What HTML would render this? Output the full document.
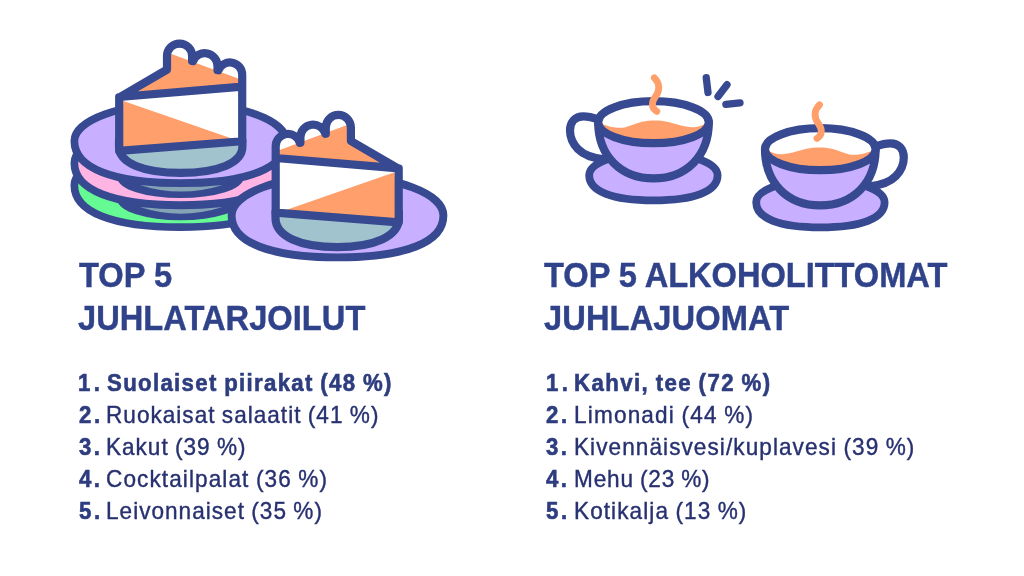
<!DOCTYPE html>
<html lang="fi">
<head>
<meta charset="utf-8">
<title>Top 5 juhlatarjoilut ja alkoholittomat juhlajuomat</title>
<style>
html,body{margin:0;padding:0;background:#fff}
body{width:1024px;height:576px;position:relative;overflow:hidden;font-family:"Liberation Sans",sans-serif}
h2,ol,li,section{margin:0;padding:0;list-style:none;font-size:inherit;font-weight:inherit}
.t{position:absolute;display:block;white-space:nowrap;line-height:1;transform-origin:0 0;margin:0}
.h{font-weight:700;font-size:34.2px;transform:scaleX(0.955);color:#30438a;-webkit-text-stroke:0.4px #30438a;word-spacing:0px}
.b{font-weight:700;font-size:23.6px;transform:scaleX(0.94);color:#2d3d7f;-webkit-text-stroke:0.6px #2d3d7f;word-spacing:-1.0px}
.n{font-weight:700;font-size:23.6px;transform:scaleX(0.94);color:#2d3d7f;-webkit-text-stroke:0.6px #2d3d7f;word-spacing:0px}
.r{font-weight:400;font-size:24.0px;transform:scaleX(0.94);color:#273170;-webkit-text-stroke:0.4px #273170;word-spacing:-1.0px}
</style>
</head>
<body>
<svg width="1024" height="576" viewBox="0 0 1024 576" style="position:absolute;left:0;top:0">
<path d="M74.35 185.20 C74.35 164.21 121.76 147.20 180.25 147.20 C238.74 147.20 286.15 164.21 286.15 185.20 C286.15 212.08 248.03 227.20 180.25 227.20 C112.47 227.20 74.35 212.08 74.35 185.20 Z" fill="#66fa94" stroke="#374990" stroke-width="7.7" stroke-linejoin="round"/>
<ellipse cx="180.5" cy="200.1" rx="63" ry="20.1" fill="#374990"/>
<path d="M74.35 163.10 C74.35 142.11 121.76 125.10 180.25 125.10 C238.74 125.10 286.15 142.11 286.15 163.10 C286.15 189.98 248.03 205.10 180.25 205.10 C112.47 205.10 74.35 189.98 74.35 163.10 Z" fill="#ffb4e4" stroke="#374990" stroke-width="7.7" stroke-linejoin="round"/>
<path d="M139.8 207.0 Q180.5 211.4 222.7 207.0 Q180.5 220.3 139.8 207.0 Z" fill="#84a4b6"/>
<ellipse cx="180.5" cy="178" rx="63" ry="20.1" fill="#374990"/>
<path d="M74.35 141.00 C74.35 120.01 121.76 103.00 180.25 103.00 C238.74 103.00 286.15 120.01 286.15 141.00 C286.15 167.88 248.03 183.00 180.25 183.00 C112.47 183.00 74.35 167.88 74.35 141.00 Z" fill="#c9afff" stroke="#374990" stroke-width="7.7" stroke-linejoin="round"/>
<path d="M139.8 184.9 Q180.5 189.3 222.7 184.9 Q180.5 198.2 139.8 184.9 Z" fill="#84a4b6"/>
<g transform="translate(517.9,-71.4) scale(-1,1)">
<path d="M275.5 212.0 L275.5 218.0 C275.5 234.68 300.18 244.3 337.2 244.3 C374.22 244.3 398.9 234.68 398.9 218.0 L398.9 212.0 Z" fill="#a1c3cd" stroke="#374990" stroke-width="8.2" stroke-linejoin="round"/>
<path d="M275.7 158 L398.7 168.4 L398.7 222.3 L275.7 212.65 Z" fill="#fff"/>
<path d="M287.5 209.5 L394.5 172.3 L398 222.3 L280 213 Z" fill="#ffa06c"/>
<path d="M275.7 158 L275.7 146.2 A12.3 12.3 0 0 1 300.3 146.2 L300.4 137.3 A12.7 12.7 0 0 1 325.8 137.3 L325.8 127.5 A12.55 12.55 0 0 1 350.9 127.5 L350.9 141 L398.7 168.4 Z" fill="#fff"/>
<path d="M277 151 L346.5 125.3 L352 141 L398.7 168.4 L275.7 158 Z" fill="#ffa06c"/>
<path d="M275.7 212.65 L275.7 146.2 A12.3 12.3 0 0 1 299.41 141.60 M300.4 141.60 L300.4 137.3 A12.7 12.7 0 0 1 324.86 132.50 M325.8 132.50 L325.8 127.5 A12.55 12.55 0 0 1 350.9 127.5 L350.9 141 L398.7 168.9 L398.7 222.3 M275.7 158 L398.7 168.4 M275.7 212.65 L398.7 222.3" fill="none" stroke="#374990" stroke-width="8.2" stroke-linecap="round" stroke-linejoin="round"/>
</g>
<path d="M231.60 215.40 C231.60 193.53 279.01 175.80 337.50 175.80 C395.99 175.80 443.40 193.53 443.40 215.40 C443.40 242.28 405.28 257.40 337.50 257.40 C269.72 257.40 231.60 242.28 231.60 215.40 Z" fill="#c9afff" stroke="#374990" stroke-width="7.9" stroke-linejoin="round"/>
<g>
<path d="M275.5 212.0 L275.5 218.0 C275.5 236.49 300.18 247.05 337.2 247.05 C374.22 247.05 398.9 236.49 398.9 218.0 L398.9 212.0 Z" fill="#a1c3cd" stroke="#374990" stroke-width="8.2" stroke-linejoin="round"/>
<path d="M275.7 158 L398.7 168.4 L398.7 222.3 L275.7 212.65 Z" fill="#fff"/>
<path d="M287.5 209.5 L394.5 172.3 L398 222.3 L280 213 Z" fill="#ffa06c"/>
<path d="M275.7 158 L275.7 146.2 A12.3 12.3 0 0 1 300.3 146.2 L300.4 137.3 A12.7 12.7 0 0 1 325.8 137.3 L325.8 127.5 A12.55 12.55 0 0 1 350.9 127.5 L350.9 141 L398.7 168.4 Z" fill="#fff"/>
<path d="M277 151 L346.5 125.3 L352 141 L398.7 168.4 L275.7 158 Z" fill="#ffa06c"/>
<path d="M275.7 212.65 L275.7 146.2 A12.3 12.3 0 0 1 299.82 142.80 M300.4 142.80 L300.4 137.3 A12.7 12.7 0 0 1 325.28 133.70 M325.8 133.70 L325.8 127.5 A12.55 12.55 0 0 1 350.9 127.5 L350.9 141 L398.7 168.9 L398.7 222.3 M275.7 158 L398.7 168.4 M275.7 212.65 L398.7 222.3" fill="none" stroke="#374990" stroke-width="8.2" stroke-linecap="round" stroke-linejoin="round"/>
</g>
<g>
<path d="M589.20 175.20 C589.20 162.61 617.94 152.40 653.40 152.40 C688.86 152.40 717.60 162.61 717.60 175.20 C717.60 191.26 694.49 200.30 653.40 200.30 C612.31 200.30 589.20 191.26 589.20 175.20 Z" fill="#c9afff" stroke="#374990" stroke-width="7.8" stroke-linejoin="round"/>
<path d="M599 119.6 C593 117.6 588 116.4 583.4 116.4 C575 116.4 570 122 570 130.5 C570 139 573.5 144.5 578 149.2 C583 154.3 591 158 604 159.3" fill="#fff" stroke="#374990" stroke-width="8.2" stroke-linecap="round" stroke-linejoin="round"/>
<path d="M598.2 122 C598.2 155.8 620.6 178.4 653.6 178.4 C686.6 178.4 708.8 155.8 708.8 122 Z" fill="#c9afff" stroke="#374990" stroke-width="8.2" stroke-linejoin="round"/>
<ellipse cx="653.5" cy="122.2" rx="55.3" ry="21" fill="#fff"/>
<path d="M601 124 C606 125 609 126.6 613.6 127.3 C618 128 621 128 624.5 127.4 C631 126 636 123 642 121.8 C650 120.2 660 120.2 667 121.8 C676 123.8 684 127 692.8 127.3 C698 127.4 702 125.5 706.5 123 C705 136 684 143.2 653.8 143.2 C624 143.2 603 136 601 124 Z" fill="#ffa06c"/>
<ellipse cx="653.5" cy="122.2" rx="55.3" ry="21" fill="none" stroke="#374990" stroke-width="8.2"/>
<path d="M654.4 77.8 C660.5 84 659.5 91 655.5 96.5 C651.5 102 651 107.5 656.8 111.3" fill="none" stroke="#ffa06c" stroke-width="6.9" stroke-linecap="round"/>
</g>
<g transform="translate(1473.8,27) scale(-1,1)">
<path d="M589.20 175.20 C589.20 162.61 617.94 152.40 653.40 152.40 C688.86 152.40 717.60 162.61 717.60 175.20 C717.60 191.26 694.49 200.30 653.40 200.30 C612.31 200.30 589.20 191.26 589.20 175.20 Z" fill="#c9afff" stroke="#374990" stroke-width="7.8" stroke-linejoin="round"/>
<path d="M599 119.6 C593 117.6 588 116.4 583.4 116.4 C575 116.4 570 122 570 130.5 C570 139 573.5 144.5 578 149.2 C583 154.3 591 158 604 159.3" fill="#fff" stroke="#374990" stroke-width="8.2" stroke-linecap="round" stroke-linejoin="round"/>
<path d="M598.2 122 C598.2 155.8 620.6 178.4 653.6 178.4 C686.6 178.4 708.8 155.8 708.8 122 Z" fill="#c9afff" stroke="#374990" stroke-width="8.2" stroke-linejoin="round"/>
<ellipse cx="653.5" cy="122.2" rx="55.3" ry="21" fill="#fff"/>
<path d="M601 124 C606 125 609 126.6 613.6 127.3 C618 128 621 128 624.5 127.4 C631 126 636 123 642 121.8 C650 120.2 660 120.2 667 121.8 C676 123.8 684 127 692.8 127.3 C698 127.4 702 125.5 706.5 123 C705 136 684 143.2 653.8 143.2 C624 143.2 603 136 601 124 Z" fill="#ffa06c"/>
<ellipse cx="653.5" cy="122.2" rx="55.3" ry="21" fill="none" stroke="#374990" stroke-width="8.2"/>
<path d="M654.4 77.8 C660.5 84 659.5 91 655.5 96.5 C651.5 102 651 107.5 656.8 111.3" fill="none" stroke="#ffa06c" stroke-width="6.9" stroke-linecap="round"/>
</g>
<path d="M706.25 77.7 L708 92.5 M727 84.7 L718 96.5 M740 102.9 L725.9 104.4" fill="none" stroke="#374990" stroke-width="7.3" stroke-linecap="round"/>
</svg>
<section aria-label="Top 5 juhlatarjoilut">
<h2>
<span class="t h" style="left:78.76px;top:257.75px;letter-spacing:-0.023px">TOP 5</span>
<span class="t h" style="left:78.44px;top:300.75px;letter-spacing:0.015px">JUHLATARJOILUT</span>
</h2>
<ol>
<li><span class="t n" style="left:78.15px;top:371.82px;letter-spacing:3.625px">1.</span><span class="t b" style="left:106.72px;top:371.82px;letter-spacing:1.421px">Suolaiset piirakat (48&nbsp;%)</span></li>
<li><span class="t n" style="left:78.82px;top:403.82px;letter-spacing:2.917px">2.</span><span class="t r" style="left:106.08px;top:402.68px;letter-spacing:1.084px">Ruokaisat salaatit (41&nbsp;%)</span></li>
<li><span class="t n" style="left:79.04px;top:435.82px;letter-spacing:2.681px">3.</span><span class="t r" style="left:106.08px;top:434.68px;letter-spacing:1.063px">Kakut (39&nbsp;%)</span></li>
<li><span class="t n" style="left:79.04px;top:467.82px;letter-spacing:2.681px">4.</span><span class="t r" style="left:105.96px;top:466.68px;letter-spacing:1.172px">Cocktailpalat (36&nbsp;%)</span></li>
<li><span class="t n" style="left:78.82px;top:499.82px;letter-spacing:2.917px">5.</span><span class="t r" style="left:106.08px;top:498.68px;letter-spacing:1.086px">Leivonnaiset (35&nbsp;%)</span></li>
</ol>
</section>
<section aria-label="Top 5 alkoholittomat juhlajuomat">
<h2>
<span class="t h" style="left:544.46px;top:257.75px;letter-spacing:-0.061px">TOP 5 ALKOHOLITTOMAT</span>
<span class="t h" style="left:544.14px;top:300.75px;letter-spacing:0.104px">JUHLAJUOMAT</span>
</h2>
<ol>
<li><span class="t n" style="left:545.55px;top:371.82px;letter-spacing:3.625px">1.</span><span class="t b" style="left:573.83px;top:371.82px;letter-spacing:1.504px">Kahvi, tee (72&nbsp;%)</span></li>
<li><span class="t n" style="left:546.22px;top:403.82px;letter-spacing:2.917px">2.</span><span class="t r" style="left:574.28px;top:402.68px;letter-spacing:1.258px">Limonadi (44&nbsp;%)</span></li>
<li><span class="t n" style="left:546.44px;top:435.82px;letter-spacing:2.681px">3.</span><span class="t r" style="left:573.88px;top:434.68px;letter-spacing:1.145px">Kivennäisvesi/kuplavesi (39&nbsp;%)</span></li>
<li><span class="t n" style="left:546.44px;top:467.82px;letter-spacing:2.681px">4.</span><span class="t r" style="left:574.28px;top:466.68px;letter-spacing:0.888px">Mehu (23&nbsp;%)</span></li>
<li><span class="t n" style="left:546.22px;top:499.82px;letter-spacing:2.917px">5.</span><span class="t r" style="left:573.88px;top:498.68px;letter-spacing:1.154px">Kotikalja (13&nbsp;%)</span></li>
</ol>
</section>
</body>
</html>
